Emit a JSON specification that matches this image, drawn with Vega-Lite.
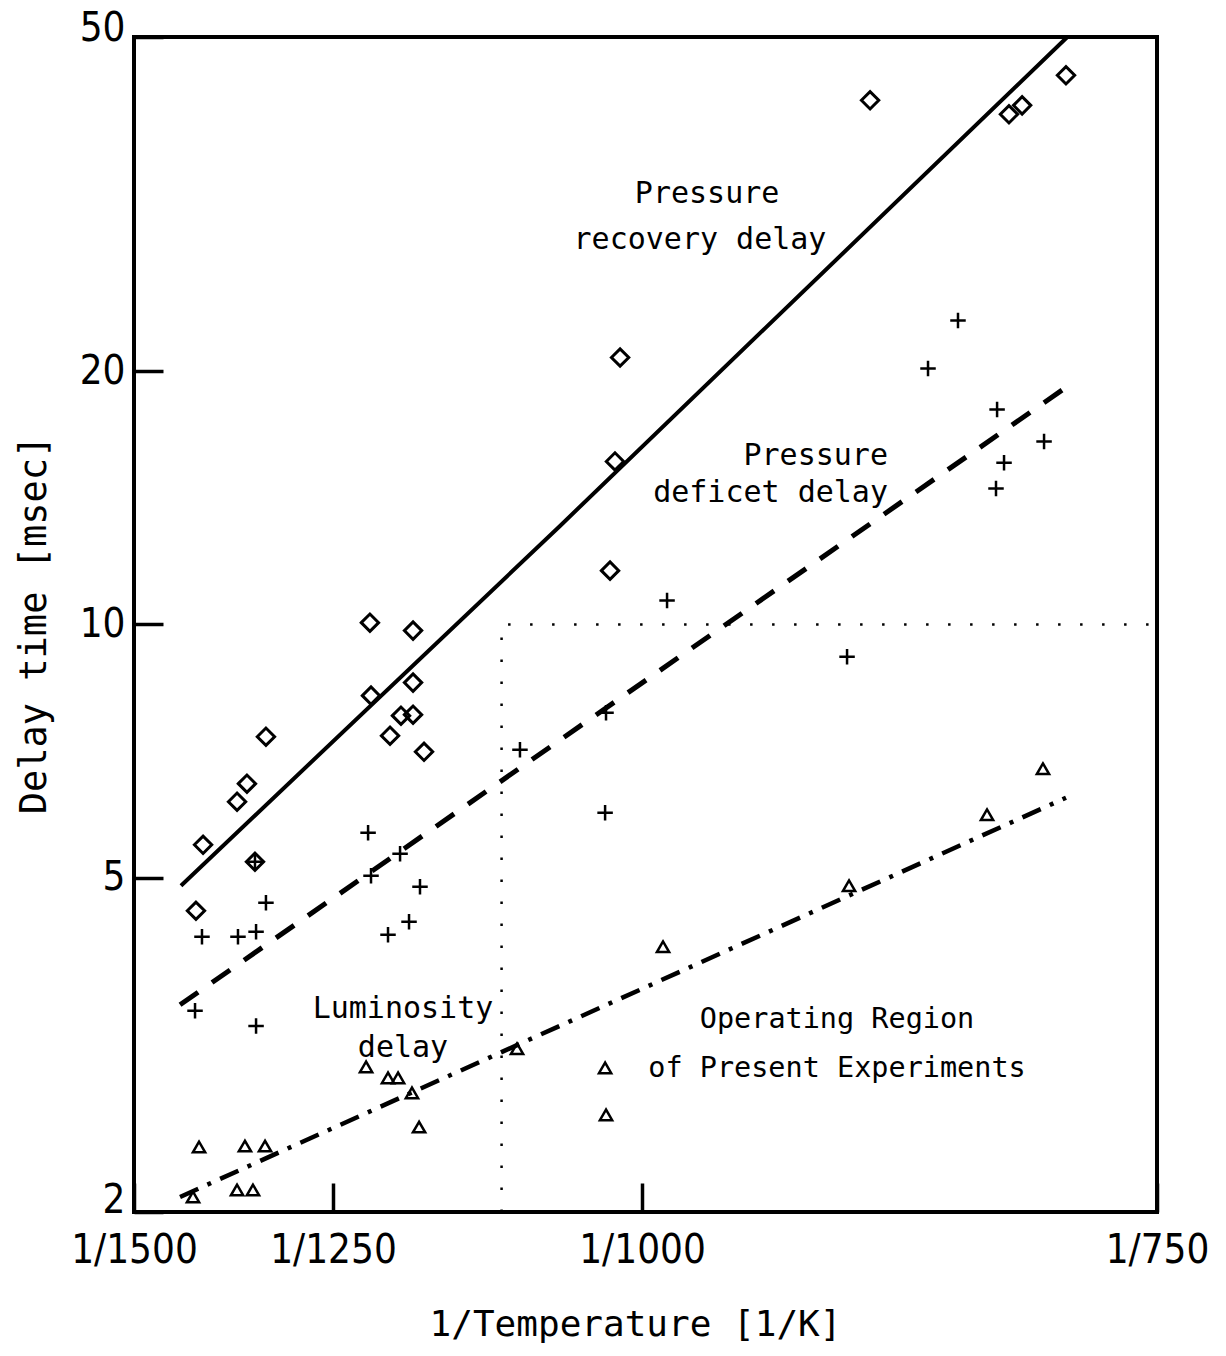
{
  "$schema": "https://vega.github.io/schema/vega-lite/v6.json",
  "width": 1023,
  "height": 1175,
  "autosize": {"type": "none"},
  "padding": {"left": 134, "top": 37, "right": 69, "bottom": 144},
  "background": "white",
  "config": {
    "view": {"stroke": "black", "strokeWidth": 4},
    "axis": {
      "domain": false,
      "grid": false,
      "tickColor": "black",
      "tickWidth": 3.5,
      "labelColor": "black",
      "titleColor": "black",
      "labelFont": "DejaVu Sans Condensed",
      "labelFontSize": 40,
      "titleFont": "DejaVu Sans Mono",
      "titleFontSize": 36,
      "titleFontWeight": "normal",
      "labelFlush": false,
      "labelOverlap": false
    }
  },
  "datasets": {
    "recovery": [
      {"u": 0.7113, "v": 4.565}, {"u": 0.7159, "v": 5.469}, {"u": 0.7379, "v": 6.154},
      {"u": 0.7443, "v": 6.466}, {"u": 0.7566, "v": 7.354}, {"u": 0.7495, "v": 5.22},
      {"u": 0.8239, "v": 10.05}, {"u": 0.8518, "v": 9.834}, {"u": 0.8246, "v": 8.229},
      {"u": 0.8518, "v": 8.528}, {"u": 0.844, "v": 7.79}, {"u": 0.8518, "v": 7.811},
      {"u": 0.8369, "v": 7.374}, {"u": 0.8589, "v": 7.056}, {"u": 0.9793, "v": 11.59},
      {"u": 0.9825, "v": 15.63}, {"u": 0.9858, "v": 20.78}, {"u": 1.1476, "v": 42.04},
      {"u": 1.2375, "v": 40.46}, {"u": 1.246, "v": 41.46}, {"u": 1.2744, "v": 45.02}
    ],
    "deficit": [
      {"u": 0.8227, "v": 5.652}, {"u": 0.8434, "v": 5.337}, {"u": 0.8246, "v": 5.024},
      {"u": 0.8563, "v": 4.874}, {"u": 0.7566, "v": 4.666}, {"u": 0.8492, "v": 4.428},
      {"u": 0.8356, "v": 4.274}, {"u": 0.7152, "v": 4.251}, {"u": 0.7385, "v": 4.251},
      {"u": 0.7502, "v": 4.309}, {"u": 0.7107, "v": 3.47}, {"u": 0.7502, "v": 3.33},
      {"u": 0.7495, "v": 5.22}, {"u": 0.921, "v": 7.096}, {"u": 0.9767, "v": 7.854},
      {"u": 0.9761, "v": 5.97}, {"u": 1.0162, "v": 10.68}, {"u": 1.1327, "v": 9.156},
      {"u": 1.2045, "v": 23.0}, {"u": 1.1851, "v": 20.17}, {"u": 1.2298, "v": 18.02},
      {"u": 1.2602, "v": 16.51}, {"u": 1.2343, "v": 15.58}, {"u": 1.2291, "v": 14.51}
    ],
    "luminosity": [
      {"u": 0.8214, "v": 2.976}, {"u": 0.8356, "v": 2.888}, {"u": 0.8421, "v": 2.888},
      {"u": 0.8511, "v": 2.772}, {"u": 0.8557, "v": 2.524}, {"u": 0.7133, "v": 2.39},
      {"u": 0.743, "v": 2.396}, {"u": 0.756, "v": 2.396}, {"u": 0.7094, "v": 2.084},
      {"u": 0.7379, "v": 2.124}, {"u": 0.7482, "v": 2.124}, {"u": 0.9191, "v": 3.128},
      {"u": 0.9761, "v": 2.968}, {"u": 0.9767, "v": 2.61}, {"u": 1.0136, "v": 4.136},
      {"u": 1.134, "v": 4.888}, {"u": 1.2233, "v": 5.938}, {"u": 1.2595, "v": 6.736}
    ],
    "fits": [
      {"fit": "recovery", "u": 0.7016, "v": 4.888},
      {"fit": "recovery", "u": 0.9469, "v": 13.1},
      {"fit": "recovery", "u": 1.2751, "v": 49.96},
      {"fit": "deficit", "u": 0.701, "v": 3.528},
      {"fit": "deficit", "u": 0.9909, "v": 8.296},
      {"fit": "deficit", "u": 1.2725, "v": 19.04},
      {"fit": "luminosity", "u": 0.701, "v": 2.084},
      {"fit": "luminosity", "u": 1.0, "v": 3.686},
      {"fit": "luminosity", "u": 1.2744, "v": 6.222}
    ],
    "region": [
      {"i": 1, "u": 0.9091, "v": 2},
      {"i": 2, "u": 0.9091, "v": 10},
      {"i": 3, "u": 1.3333, "v": 10}
    ],
    "labelsCenter": [
      {"text": "Pressure", "u": 1.0421, "v": 31.7},
      {"text": "recovery delay", "u": 1.0375, "v": 27.94},
      {"text": "Luminosity", "u": 0.8453, "v": 3.404},
      {"text": "delay", "u": 0.8453, "v": 3.058}
    ],
    "labelsRight": [
      {"text": "Pressure", "u": 1.1592, "v": 15.5},
      {"text": "deficet delay", "u": 1.1592, "v": 14.0}
    ],
    "labelsRegion": [
      {"text": "Operating Region", "u": 1.1262, "v": 3.311},
      {"text": "of Present Experiments", "u": 1.1262, "v": 2.896}
    ]
  },
  "layer": [
    {
      "data": {"name": "region"},
      "mark": {"type": "line", "color": "black", "strokeWidth": 2.5, "strokeDash": [2.5, 19.5]},
      "encoding": {
        "x": {
          "field": "u", "type": "quantitative",
          "scale": {"domain": [0.6712, 1.3333], "nice": false, "zero": false},
          "axis": {
            "values": [0.6712, 0.8, 1.0, 1.3333],
            "labelExpr": "datum.value < 0.7 ? '1/1500' : '1/' + round(1000 / datum.value)",
            "tickSize": -29,
            "labelPadding": 47,
            "title": "1/Temperature [1/K]",
            "titlePadding": 37,
            "titleX": 501
          }
        },
        "y": {
          "field": "v", "type": "quantitative",
          "scale": {"type": "log", "domain": [2, 50], "nice": false},
          "axis": {
            "values": [2, 5, 10, 20, 50],
            "format": "d",
            "tickSize": -29,
            "labelPadding": 38,
            "labelBaseline": {"condition": {"test": "datum.value <= 2.01", "value": "alphabetic"}, "value": "middle"},
            "labelOffset": {"condition": {"test": "datum.value >= 49", "value": -9}, "value": 0},
            "title": "Delay time [msec]",
            "titleFontSize": 37,
            "titlePadding": 26
          }
        },
        "order": {"field": "i"}
      }
    },
    {
      "data": {"name": "fits"},
      "transform": [{"filter": "datum.fit === 'recovery'"}],
      "mark": {"type": "line", "color": "black", "strokeWidth": 4},
      "encoding": {
        "x": {"field": "u", "type": "quantitative", "scale": {"domain": [0.6712, 1.3333], "nice": false, "zero": false}},
        "y": {"field": "v", "type": "quantitative", "scale": {"type": "log", "domain": [2, 50], "nice": false}}
      }
    },
    {
      "data": {"name": "fits"},
      "transform": [{"filter": "datum.fit === 'deficit'"}],
      "mark": {"type": "line", "color": "black", "strokeWidth": 5, "strokeDash": [22, 17]},
      "encoding": {
        "x": {"field": "u", "type": "quantitative", "scale": {"domain": [0.6712, 1.3333], "nice": false, "zero": false}},
        "y": {"field": "v", "type": "quantitative", "scale": {"type": "log", "domain": [2, 50], "nice": false}}
      }
    },
    {
      "data": {"name": "fits"},
      "transform": [{"filter": "datum.fit === 'luminosity'"}],
      "mark": {"type": "line", "color": "black", "strokeWidth": 4.5, "strokeDash": [20, 10, 4, 10]},
      "encoding": {
        "x": {"field": "u", "type": "quantitative", "scale": {"domain": [0.6712, 1.3333], "nice": false, "zero": false}},
        "y": {"field": "v", "type": "quantitative", "scale": {"type": "log", "domain": [2, 50], "nice": false}}
      }
    },
    {
      "data": {"name": "recovery"},
      "mark": {"type": "point", "shape": "diamond", "size": 300, "filled": false, "color": "black", "strokeWidth": 3, "opacity": 1},
      "encoding": {
        "x": {"field": "u", "type": "quantitative", "scale": {"domain": [0.6712, 1.3333], "nice": false, "zero": false}},
        "y": {"field": "v", "type": "quantitative", "scale": {"type": "log", "domain": [2, 50], "nice": false}}
      }
    },
    {
      "data": {"name": "deficit"},
      "mark": {"type": "point", "shape": "M-1,0L1,0M0,-1L0,1", "size": 240, "filled": false, "color": "black", "strokeWidth": 2.5, "opacity": 1},
      "encoding": {
        "x": {"field": "u", "type": "quantitative", "scale": {"domain": [0.6712, 1.3333], "nice": false, "zero": false}},
        "y": {"field": "v", "type": "quantitative", "scale": {"type": "log", "domain": [2, 50], "nice": false}}
      }
    },
    {
      "data": {"name": "luminosity"},
      "mark": {"type": "point", "shape": "triangle-up", "size": 150, "filled": false, "color": "black", "strokeWidth": 2.5, "opacity": 1},
      "encoding": {
        "x": {"field": "u", "type": "quantitative", "scale": {"domain": [0.6712, 1.3333], "nice": false, "zero": false}},
        "y": {"field": "v", "type": "quantitative", "scale": {"type": "log", "domain": [2, 50], "nice": false}}
      }
    },
    {
      "data": {"name": "labelsCenter"},
      "mark": {"type": "text", "font": "DejaVu Sans Mono", "fontSize": 30, "align": "center", "baseline": "alphabetic", "color": "black"},
      "encoding": {
        "x": {"field": "u", "type": "quantitative", "scale": {"domain": [0.6712, 1.3333], "nice": false, "zero": false}},
        "y": {"field": "v", "type": "quantitative", "scale": {"type": "log", "domain": [2, 50], "nice": false}},
        "text": {"field": "text"}
      }
    },
    {
      "data": {"name": "labelsRight"},
      "mark": {"type": "text", "font": "DejaVu Sans Mono", "fontSize": 30, "align": "right", "baseline": "alphabetic", "color": "black"},
      "encoding": {
        "x": {"field": "u", "type": "quantitative", "scale": {"domain": [0.6712, 1.3333], "nice": false, "zero": false}},
        "y": {"field": "v", "type": "quantitative", "scale": {"type": "log", "domain": [2, 50], "nice": false}},
        "text": {"field": "text"}
      }
    },
    {
      "data": {"name": "labelsRegion"},
      "mark": {"type": "text", "font": "DejaVu Sans Mono", "fontSize": 28.5, "align": "center", "baseline": "alphabetic", "color": "black"},
      "encoding": {
        "x": {"field": "u", "type": "quantitative", "scale": {"domain": [0.6712, 1.3333], "nice": false, "zero": false}},
        "y": {"field": "v", "type": "quantitative", "scale": {"type": "log", "domain": [2, 50], "nice": false}},
        "text": {"field": "text"}
      }
    }
  ]
}
